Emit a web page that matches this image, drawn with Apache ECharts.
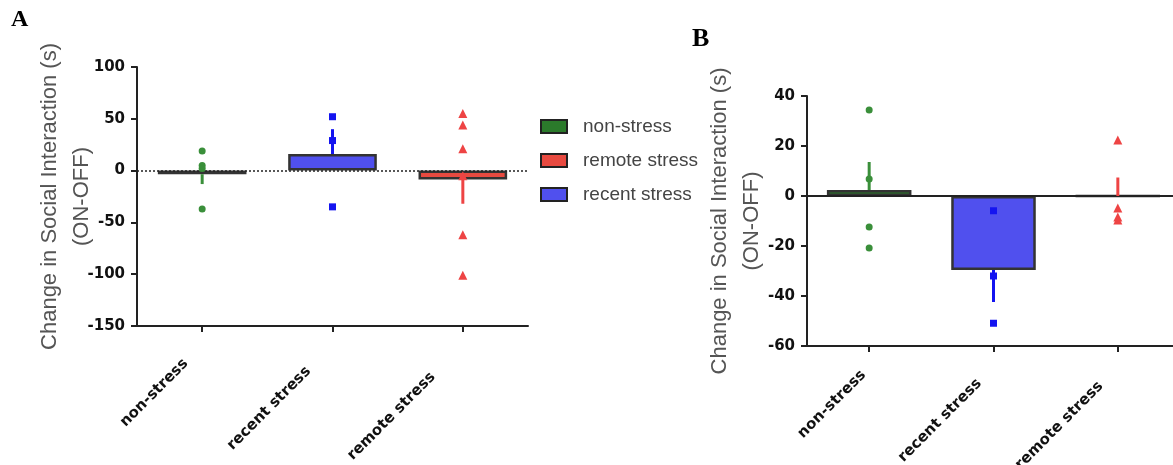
<!DOCTYPE html>
<html>
<head>
<meta charset="utf-8">
<script src="https://cdn.jsdelivr.net/npm/echarts@6/dist/echarts.min.js"></script>
<style>html,body{margin:0;padding:0;background:#fff;}#c{width:1173px;height:465px;}</style>
</head>
<body>
<div id="c"></div>
<script>
// ---- data ----
const categories = ['non-stress', 'recent stress', 'remote stress'];
const legendNames = ['non-stress', 'remote stress', 'recent stress'];
const yTicksA = [-150, -100, -50, 0, 50, 100];
const yTicksB = [-60, -40, -20, 0, 20, 40];
// panel A
const meanA = [-3.5, 16, -8.5];
const errEndA = [-13, 40, -32];
const ptsA_non = [19, 5, 2, -37];
const ptsA_recent = [52, 29, -35];
const ptsA_remote = [55, 44, 21, -5, -62, -101];
// panel B
const meanB = [2.4, -29.6, 0];
const errEndB = [13.6, -42.4, 7.4];
const ptsB_non = [34.4, 6.8, -12.4, -20.8];
const ptsB_recent = [-5.9, -32, -50.9];
const ptsB_remote = [22.4, -4.8, -8.4, -9.6];

// ---- styles ----
const fillColor = {'non-stress': '#2b7a2b', 'recent stress': '#5050ee', 'remote stress': '#e84a40'};
const ptColor = {'non-stress': '#3a8f3a', 'recent stress': '#1414f0', 'remote stress': '#ee4444'};
const ptSymbol = {'non-stress': 'circle', 'recent stress': 'rect', 'remote stress': 'triangle'};
const ptSize = {'non-stress': 7, 'recent stress': 7, 'remote stress': 9};

const chart = echarts.init(document.getElementById('c'), null, {renderer: 'canvas'});

function xAxis(gi, margin, pads) {
  const rich = {};
  pads.forEach((p, i) => {
    rich['l' + i] = {padding: [0, p, 0, 0], fontFamily: 'DejaVu Sans', fontWeight: 'bold', fontSize: 15, color: '#111'};
  });
  return {
    type: 'category', gridIndex: gi, data: categories, boundaryGap: true,
    axisLine: {show: true, onZero: false, lineStyle: {color: '#222', width: 2}},
    axisTick: {show: true, alignWithLabel: true, length: 6, lineStyle: {color: '#222', width: 2}},
    axisLabel: {
      interval: 0, rotate: 45, margin: margin, hideOverlap: false,
      fontFamily: 'DejaVu Sans', fontWeight: 'bold', fontSize: 15, color: '#111',
      formatter: (v, i) => '{l' + i + '|' + v + '}', rich: rich
    },
    splitLine: {show: false}
  };
}
function yAxis(gi, ticks) {
  return {
    type: 'value', gridIndex: gi,
    min: ticks[0], max: ticks[ticks.length - 1], interval: ticks[1] - ticks[0],
    name: 'Change in Social Interaction (s)\n(ON-OFF)',
    nameLocation: 'middle', nameGap: 39, nameRotate: 90, nameMoveOverlap: false,
    nameTextStyle: {fontFamily: 'Liberation Sans', fontSize: 22, lineHeight: 32, color: '#555'},
    axisLine: {show: true, lineStyle: {color: '#222', width: 2}},
    axisTick: {show: true, length: 6, lineStyle: {color: '#222', width: 2}},
    axisLabel: {margin: 12, showMinLabel: true, showMaxLabel: true, hideOverlap: false,
      fontFamily: 'DejaVu Sans', fontWeight: 'bold', fontSize: 15, color: '#111'},
    splitLine: {show: false}
  };
}
function barSeries(gi, means, zeroType, zeroWidth) {
  return {
    type: 'bar', xAxisIndex: gi, yAxisIndex: gi, barWidth: '68%', z: 2,
    data: means.map((v, i) => ({value: v, itemStyle: {color: fillColor[categories[i]], opacity: 1, borderColor: '#333', borderWidth: 2.5}})),
    markLine: {silent: true, symbol: ['none', 'none'], label: {show: false},
      lineStyle: {color: '#222', type: zeroType, width: zeroWidth, opacity: 1}, data: [{yAxis: 0}]},
    emphasis: {disabled: true}
  };
}
function errSeries(gi, means, ends) {
  return {
    type: 'custom', xAxisIndex: gi, yAxisIndex: gi, z: 5,
    data: means.map((m, i) => [i, m, ends[i]]),
    renderItem: (params, api) => {
      const i = api.value(0);
      const p1 = api.coord([i, api.value(1)]);
      const p2 = api.coord([i, api.value(2)]);
      return {type: 'line', shape: {x1: p1[0], y1: p1[1], x2: p2[0], y2: p2[1]},
        style: {stroke: ptColor[categories[i]], lineWidth: 3, opacity: 1}};
    }
  };
}
function ptSeries(gi, name, pts) {
  const ci = categories.indexOf(name);
  return {
    type: 'scatter', name: name, xAxisIndex: gi, yAxisIndex: gi, z: 6,
    symbol: ptSymbol[name], symbolSize: ptSize[name],
    itemStyle: {color: ptColor[name], opacity: 1},
    data: pts.map(v => [ci, v]),
    emphasis: {disabled: true}
  };
}

const option = {
  animation: false,
  backgroundColor: '#fff',
  grid: [
    {left: 137, top: 67, width: 391, height: 259, containLabel: false, outerBoundsMode: 'none'},
    {left: 807, top: 96, width: 373, height: 250, containLabel: false, outerBoundsMode: 'none'}
  ],
  xAxis: [xAxis(0, 19, [23, 34, 42]), xAxis(1, 21, [8, 20, 24])],
  yAxis: [yAxis(0, yTicksA), yAxis(1, yTicksB)],
  legend: {
    orient: 'vertical', left: 535, top: 112, itemWidth: 26, itemHeight: 13, itemGap: 15,
    selectedMode: false, inactiveColor: '#444',
    textStyle: {fontFamily: 'Liberation Sans', fontSize: 19, color: '#444', padding: [0, 0, 0, 11]},
    data: legendNames.map(n => ({name: n, icon: 'rect',
      itemStyle: {color: fillColor[n], opacity: 1, borderColor: '#222', borderWidth: 2}}))
  },
  graphic: [
    {type: 'text', left: 11, top: 8, style: {text: 'A', font: 'bold 24px "Liberation Serif"', fill: '#000'}},
    {type: 'text', left: 692, top: 26, style: {text: 'B', font: 'bold 26px "Liberation Serif"', fill: '#000'}}
  ],
  series: [
    barSeries(0, meanA, [2, 2], 1.5),
    errSeries(0, meanA, errEndA),
    ptSeries(0, 'non-stress', ptsA_non),
    ptSeries(0, 'recent stress', ptsA_recent),
    ptSeries(0, 'remote stress', ptsA_remote),
    barSeries(1, meanB, 'solid', 2),
    errSeries(1, meanB, errEndB),
    ptSeries(1, 'non-stress', ptsB_non),
    ptSeries(1, 'recent stress', ptsB_recent),
    ptSeries(1, 'remote stress', ptsB_remote)
  ]
};
chart.setOption(option);
</script>
</body>
</html>
